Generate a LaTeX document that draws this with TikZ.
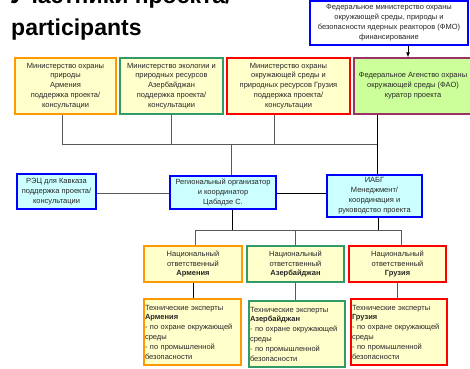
\documentclass[tikz,border=0pt]{standalone}
\usepackage{fontspec}
\setmainfont{Liberation Sans}
\usetikzlibrary{arrows.meta,calc}
\definecolor{yel}{HTML}{FFFFCC}
\definecolor{cy}{HTML}{CCFFFF}
\definecolor{lgreen}{HTML}{CCFF99}
\definecolor{org}{HTML}{FF9900}
\definecolor{grn}{HTML}{339966}
\definecolor{red1}{HTML}{FF0000}
\definecolor{pur}{HTML}{993366}
\definecolor{blu}{HTML}{0000FF}
\definecolor{gline}{HTML}{595959}
\definecolor{txt}{HTML}{262626}
\begin{document}
\begin{tikzpicture}[x=1pt,y=-1pt,
  bx/.style={draw, line width=1.3pt, inner sep=1pt, align=center, anchor=center, text=txt,
    font=\fontsize{7.5}{9.9}\selectfont},
  am/.style={bx, draw=org, fill=yel},
  az/.style={bx, draw=grn, fill=yel},
  ge/.style={bx, draw=red1, fill=yel},
  bl/.style={bx, draw=blu, fill=cy},
  tech/.style={align=left, font=\fontsize{7.5}{9.8}\selectfont},
  gl/.style={draw=gline, line width=0.9pt},
  kl/.style={draw=black, line width=0.9pt},
  ttl/.style={font=\fontsize{23}{28}\selectfont\bfseries, inner sep=0pt, anchor=base west}]
\useasboundingbox (0,0) rectangle (470,368);
\clip (0,0) rectangle (470,368);

% title
\node[ttl] (t1) at (10,3) {Участники проекта/};
\node[ttl] (t2) at (11,35) {participants};

% top funding box
\node[bx, draw=blu, fill=white, minimum width=158pt, minimum height=44pt] (fmo) at (389,23)
  {Федеральное министерство охраны\\окружающей среды, природы и\\безопасности ядерных реакторов (ФМО)\\финансирование};

% row 1
\node[am, minimum width=101pt, minimum height=56pt] (m1) at (65.5,86)
  {Министерство охраны\\природы\\Армения\\поддержка проекта/\\консультации};
\node[az, minimum width=103pt, minimum height=56pt] (m2) at (171.5,86)
  {Министерство экологии и\\природных ресурсов\\Азербайджан\\поддержка проекта/\\консультации};
\node[ge, minimum width=123pt, minimum height=56pt] (m3) at (288.5,86)
  {Министерство охраны\\окружающей среды и\\природных ресурсов Грузия\\поддержка проекта/\\консультации};
\node[bx, draw=pur, fill=lgreen, minimum width=118pt, minimum height=56pt] (fao) at (413,86)
  {Федеральное Агенство охраны\\окружающей среды (ФАО)\\куратор проекта};

\draw[kl, -{Latex[length=5pt,width=4pt]}] ([xshift=19pt]fmo.south) -- ([xshift=19pt]fmo.south |- fao.north);

% row 2
\node[bl, minimum width=79pt, minimum height=35pt] (rec) at (56.5,191.5)
  {РЭЦ для Кавказа\\поддержка проекта/\\консультации};
\node[bl, minimum width=106pt, minimum height=33pt] (reg) at (223,192.5)
  {Региональный организатор\\и координатор\\Цабадзе С.};
\node[bl, minimum width=95pt, minimum height=42pt] (iab) at (374.5,196)
  {ИАБГ\\Менеджмент/\\координация и\\руководство проекта};

% bus 1
\coordinate (b1) at (62,144);
\coordinate (b4) at (377,144);
\coordinate (bm) at (231,144);
\draw[gl] (m1.south -| b1) -- (b1) -- (b4);
\draw[gl] (m2.south) -- (m2.south |- b1);
\draw[gl] ([xshift=-14pt]m3.south) -- ([xshift=-14pt]m3.south |- b1);
\draw[gl] (bm) -- (bm |- reg.north);
\draw[kl] (fao.south -| b4) -- (b4 |- iab.north);
\draw[gl] (rec.east |- 0,193) -- (reg.west |- 0,193);
\draw[kl] (reg.east |- 0,193) -- (iab.west |- 0,193);

% row 3
\node[am, minimum width=98pt, minimum height=36pt] (n1) at (193,264)
  {Национальный\\ответственный\\\textbf{Армения}};
\node[az, minimum width=97pt, minimum height=36pt] (n2) at (295.5,264)
  {Национальный\\ответственный\\\textbf{Азербайджан}};
\node[ge, minimum width=97pt, minimum height=36pt] (n3) at (397.5,264)
  {Национальный\\ответственный\\\textbf{Грузия}};

\coordinate (c1) at (195,230);
\coordinate (c3) at (401,230);
\draw[gl] (c1 |- n1.north) -- (c1) -- (c3) -- (c3 |- n3.north);
\draw[gl] (n2.north) -- (n2.north |- c1);
\draw[kl] ([xshift=9pt]reg.south) -- ([xshift=9pt]reg.south |- c1);
\draw[kl] ([xshift=3.5pt]iab.south) -- ([xshift=3.5pt]iab.south |- c1);

% row 4
\node[am, tech, text width=95pt, minimum height=66pt] (e1) at (192.5,332)
  {Технические эксперты\\ \textbf{Армения}\\- по охране окружающей\\среды\\- по промышленной\\безопасности};
\node[az, tech, text width=94pt, minimum height=66pt] (e2) at (297,334)
  {Технические эксперты\\\textbf{Азербайджан}\\- по охране окружающей\\среды\\- по промышленной\\безопасности};
\node[ge, tech, text width=94pt, minimum height=66pt] (e3) at (399,332)
  {Технические эксперты\\\textbf{Грузия}\\- по охране окружающей\\среды\\- по промышленной\\безопасности};

\draw[kl] (n1.south) -- (n1.south |- e1.north);
\draw[gl] (n2.south) -- (n2.south |- e2.north);
\draw[gl] (n3.south) -- (n3.south |- e3.north);
\end{tikzpicture}
\end{document}
